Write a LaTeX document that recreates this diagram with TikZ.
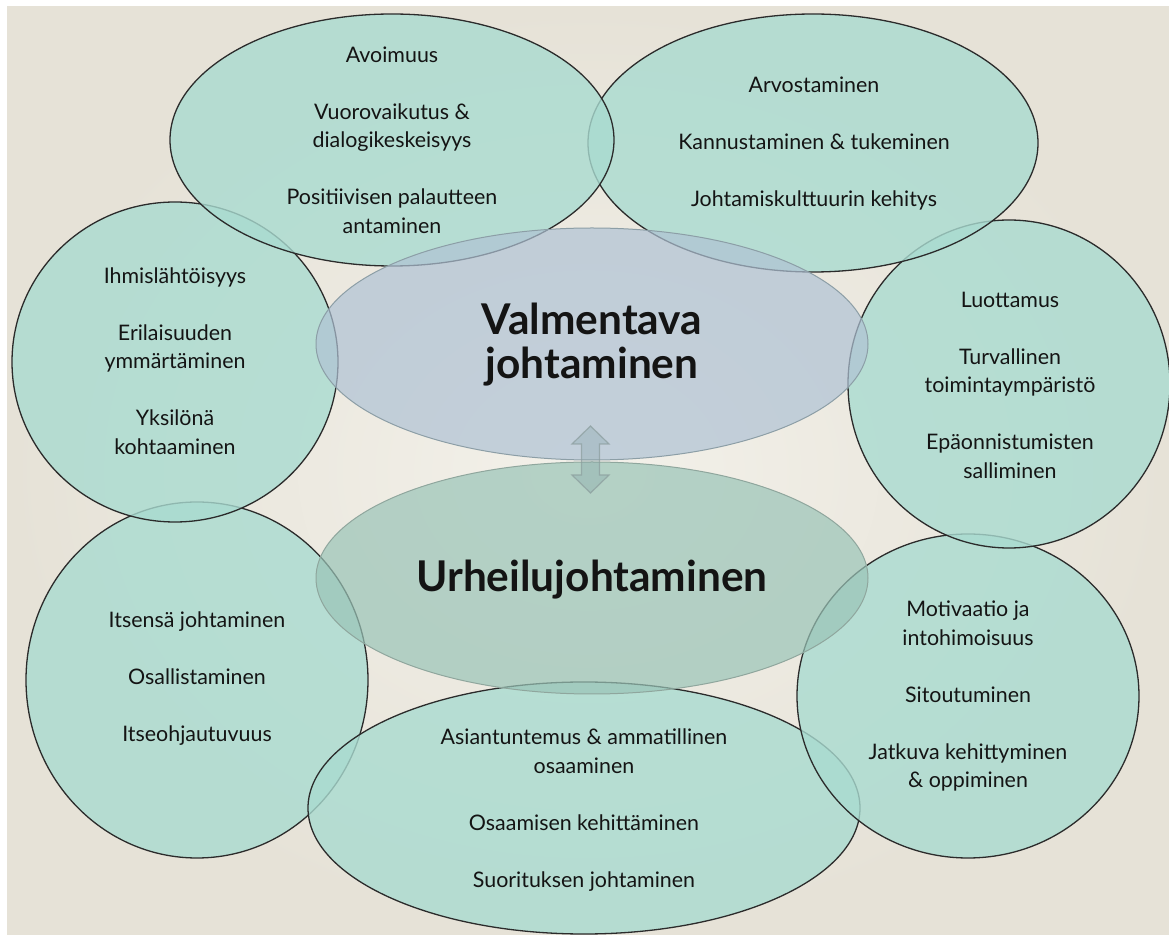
\documentclass[tikz,border=0pt]{standalone}
\usepackage{fontspec}
\setmainfont{Lato}
\usetikzlibrary{shapes.geometric}
\definecolor{bgin}{HTML}{F3F1EA}
\definecolor{bgout}{HTML}{E6E2D7}
\definecolor{teal}{HTML}{A9DBD0}
\definecolor{rim}{HTML}{2B2B2B}
\definecolor{vfill}{HTML}{AFC2D4}
\definecolor{ufill}{HTML}{9AC4B7}
\definecolor{vrim}{HTML}{8C9EA6}
\definecolor{urim}{HTML}{8FA69D}
\definecolor{arrfill}{HTML}{7F9FA3}
\definecolor{arrrim}{HTML}{8A9C9C}
\definecolor{ink}{HTML}{141414}
\tikzset{
  outer/.style={ellipse, draw=rim, line width=0.65pt, fill=teal, fill opacity=0.8, inner sep=0pt},
  center/.style={ellipse, fill opacity=0.7, line width=0.5pt, inner sep=0pt},
  txt/.style={align=center, text=ink, font=\fontsize{10.7pt}{14.25pt}\selectfont, inner sep=0pt},
  title/.style={align=center, text=ink, font=\fontsize{21.2pt}{22pt}\selectfont\bfseries, inner sep=0pt},
  dblarrow/.style={fill=arrfill, fill opacity=0.3, draw=arrrim, draw opacity=0.7, line width=0.6pt, line join=miter}
}
\begin{document}
\begin{tikzpicture}[x=0.5pt, y=-0.5pt]
\useasboundingbox (0,0) rectangle (1169,935);
\shade[inner color=bgin, outer color=bgout] (7,7) rectangle (1169,935);
% outer ellipses (drawing order sets the overlaps)
\node[outer, minimum width=171pt, minimum height=178pt] (bl) at (197,680) {};
\node[outer, minimum width=276pt, minimum height=126pt] (bo) at (584,808) {};
\node[outer, minimum width=171pt, minimum height=162pt] (br) at (968,696) {};
\node[outer, minimum width=161pt, minimum height=164pt] (ri) at (1009,384) {};
\node[outer, minimum width=225pt, minimum height=129pt] (tr) at (813,143) {};
\node[outer, minimum width=163pt, minimum height=160pt] (le) at (175,362) {};
\node[outer, minimum width=222pt, minimum height=126pt] (tl) at (392,140) {};
% central ellipses
\node[center, fill=vfill, draw=vrim, minimum width=276pt, minimum height=116pt] (va) at (592,344) {};
\node[center, fill=ufill, draw=urim, minimum width=276pt, minimum height=116pt] (ur) at (592,578) {};
% double arrow
\coordinate (ac) at (590.5,459.5);
\draw[dblarrow] (590.5,426) -- (609,444) -- (599.5,444) -- (599.5,475) -- (609,475)
  -- (590.5,493) -- (572,475) -- (581.5,475) -- (581.5,444) -- (572,444) -- cycle;
% texts
\node[title] (vat) at (592,345) {Valmentava\\johtaminen};
\node[title] (urt) at (592,580) {Urheilujohtaminen};
\node[txt] (tlt) at (392,140) {Avoimuus\\[14.25pt]Vuorovaikutus \&\\dialogikeskeisyys\\[14.25pt]Positiivisen palautteen\\antaminen};
\node[txt] (trt) at (814,144) {Arvostaminen\\[14.25pt]Kannustaminen \& tukeminen\\[14.25pt]Johtamiskulttuurin kehitys};
\node[txt] (let) at (175,361) {Ihmislähtöisyys\\[14.25pt]Erilaisuuden\\ymmärtäminen\\[14.25pt]Yksilönä\\kohtaaminen};
\node[txt] (rit) at (1010,385) {Luottamus\\[14.25pt]Turvallinen\\toimintaympäristö\\[14.25pt]Epäonnistumisten\\salliminen};
\node[txt] (blt) at (197,679) {Itsensä johtaminen\\[14.25pt]Osallistaminen\\[14.25pt]Itseohjautuvuus};
\node[txt] (brt) at (968,696) {Motivaatio ja\\intohimoisuus\\[14.25pt]Sitoutuminen\\[14.25pt]Jatkuva kehittyminen\\\& oppiminen};
\node[txt] (bot) at (584,810) {Asiantuntemus \& ammatillinen\\osaaminen\\[14.25pt]Osaamisen kehittäminen\\[14.25pt]Suorituksen johtaminen};
\end{tikzpicture}
\end{document}
